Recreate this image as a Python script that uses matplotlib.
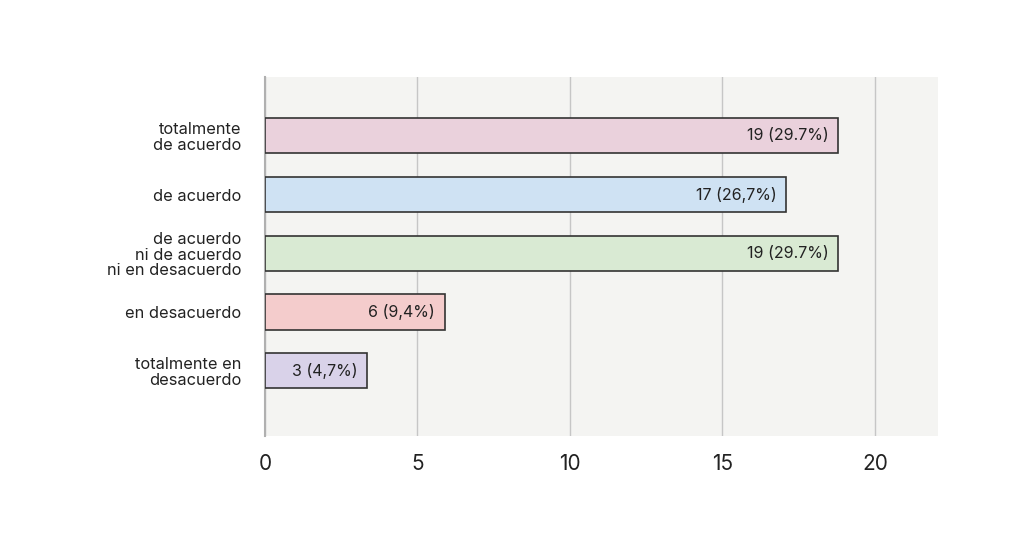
import matplotlib
matplotlib.use("Agg")
import matplotlib.pyplot as plt

categories = ["totalmente\nde acuerdo", "de acuerdo", "de acuerdo\nni de acuerdo\nni en desacuerdo",
              "en desacuerdo", "totalmente en\ndesacuerdo"]
bar_values = [18.8, 17.1, 18.8, 5.9, 3.35]
bar_labels = ["19 (29.7%)", "17 (26,7%)", "19 (29.7%)", "6 (9,4%)", "3 (4,7%)"]
colors = ["#ead1dc", "#cfe2f3", "#d9ead3", "#f4cccc", "#d9d2e9"]
xticks = [0, 5, 10, 15, 20]

plt.rcParams['font.family'] = ['Inter', 'DejaVu Sans']

fig = plt.figure(figsize=(10.24, 5.51), dpi=100)
ax = fig.add_axes([265/1024, 1-436/551, (938-265)/1024, (436-77)/551])
ax.set_facecolor("#f4f4f2")

ypos = list(range(len(categories)))
bars = ax.barh(ypos, bar_values, height=0.6, color=colors, edgecolor="#333333", linewidth=1.2, zorder=3)
for b, lab in zip(bars, bar_labels):
    ax.annotate(lab, (b.get_width(), b.get_y() + b.get_height()/2), xytext=(-7, 0),
                textcoords="offset points", ha="right", va="center", fontsize=11.5,
                color="#222222", zorder=4)

ax.set_xlim(0, 22.07)
ax.set_ylim(5.11, -1.0)
ax.set_yticks(ypos)
ax.set_yticklabels(categories, fontsize=11.8, color="#222222", linespacing=1.05)
ax.set_xticks(xticks)
ax.set_xticklabels([str(t) for t in xticks], fontsize=15, color="#222222")
ax.tick_params(axis="y", length=0, pad=17)
ax.tick_params(axis="x", length=0, pad=13)
ax.grid(axis="x", color="#c6c6c6", linewidth=1.0, zorder=0)
for s in ["top", "right", "bottom"]:
    ax.spines[s].set_visible(False)
ax.spines["left"].set_color("#b0b0b0")
ax.spines["left"].set_linewidth(1.5)

fig.savefig("out.png", dpi=100, facecolor="white")
